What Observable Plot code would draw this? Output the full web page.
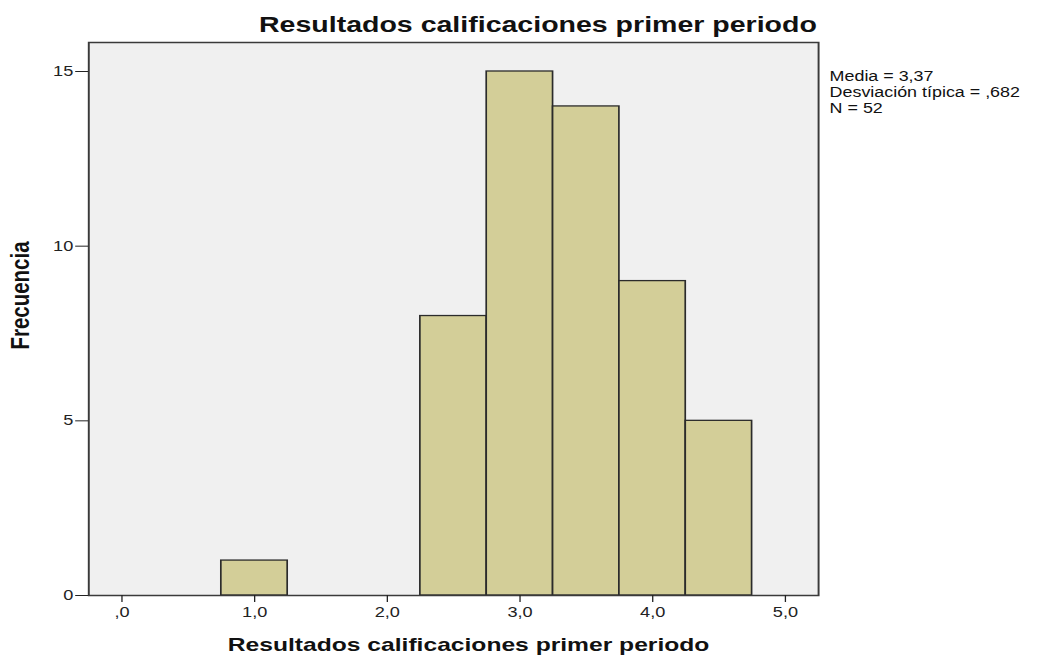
<!DOCTYPE html>
<html><head><meta charset="utf-8">
<script src="https://cdn.jsdelivr.net/npm/d3@7"></script>
<script src="https://cdn.jsdelivr.net/npm/@observablehq/plot@0.6"></script>
<style>
body{margin:0;background:#fff;}
#wrap{position:relative;width:800px;height:656px;transform:scaleX(1.29625);transform-origin:0 0;font-family:"Liberation Sans",Arial,sans-serif;}
#title{height:38px;box-sizing:border-box;padding-top:14px;line-height:22px;font-size:22px;font-weight:bold;width:830px;text-align:center;color:#111;white-space:nowrap;}
</style></head><body>
<div id="wrap"><div id="title"></div><div id="chart"></div></div>
<script>
const chartTitle = "Resultados calificaciones primer periodo";
const xLabel = "Resultados calificaciones primer periodo";
const yLabel = "Frecuencia";
const binStart = [0.75, 2.25, 2.75, 3.25, 3.75, 4.25];
const binEnd = [1.25, 2.75, 3.25, 3.75, 4.25, 4.75];
const counts = [1, 8, 15, 14, 9, 5];
const xTicks = [0, 1, 2, 3, 4, 5];
const yTicks = [0, 5, 10, 15];
const statsLines = ["Media = 3,37", "Desviación típica = ,682", "N = 52"];

document.getElementById("title").textContent = chartTitle;
const bins = counts.map((c, i) => ({x1: binStart[i], x2: binEnd[i], count: c}));
const fmtX = d => d === 0 ? ",0" : d.toFixed(1).replace(".", ",");

const plot = Plot.plot({
  width: 800, height: 618,
  marginTop: 4, marginBottom: 61, marginLeft: 68, marginRight: 169,
  style: {fontFamily: '"Liberation Sans", Arial, sans-serif', fontSize: "14px", background: "transparent", color: "#222"},
  x: {domain: [-0.25, 5.25]},
  y: {domain: [0, 15.83]},
  marks: [
    Plot.frame({fill: "#f0f0f0"}),
    Plot.rect(bins, {x1: "x1", x2: "x2", y1: 0, y2: "count", fill: "#d3ce98", stroke: "#2b2b2b", strokeWidth: 1.3}),
    Plot.frame({stroke: "#3a3a3a", strokeWidth: 1.5}),
    Plot.axisX({ticks: xTicks, tickFormat: fmtX, tickSize: 7, tickPadding: 5, label: null}),
    Plot.axisY({ticks: yTicks, tickSize: 10, tickPadding: 2, label: null}),
    Plot.text([xLabel], {text: d => d, frameAnchor: "bottom", dx: 11.5, dy: 55, fontSize: 19, fontWeight: "bold", fill: "#111"}),
    Plot.text([yLabel], {text: d => d, frameAnchor: "left", rotate: -90, textAnchor: "middle", dx: -52.5, dy: -23.5, fontSize: 20.5, fontWeight: "bold", fill: "#111"}),
    Plot.text([statsLines.join("\n")], {text: d => d, frameAnchor: "top-right", textAnchor: "start", lineAnchor: "top", dx: 8.5, dy: 27, fontSize: 13.8, lineHeight: 1.17, fill: "#111"})
  ]
});
document.getElementById("chart").appendChild(plot);
</script>
</body></html>
